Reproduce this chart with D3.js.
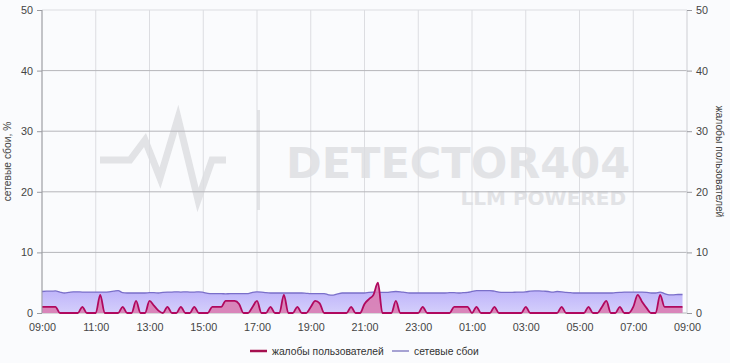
<!DOCTYPE html>
<html>
<head>
  <meta charset="utf-8">
  <title>сетевые сбои / жалобы</title>
  <script src="https://cdn.jsdelivr.net/npm/d3@7"></script>
  <style>
    body { margin: 0; background: #fafbfd; }
    svg { display: block; font-family: "Liberation Sans", Arial, sans-serif; }
  </style>
</head>
<body>
<div id="chart"></div>
<script>
// data: one point every 10 minutes from 09:00 (144 points)
var startTime = "09:00";
var stepMinutes = 10;
var tickLabels = ["09:00", "11:00", "13:00", "15:00", "17:00", "19:00", "21:00",
                  "23:00", "01:00", "03:00", "05:00", "07:00", "09:00"];
var yTicks = [0, 10, 20, 30, 40, 50];

var networkFails = [
  3.55, 3.6, 3.6, 3.65, 3.45, 3.3, 3.4, 3.5, 3.5, 3.45, 3.45, 3.45, 3.45, 3.45, 3.45, 3.5,
  3.6, 3.7, 3.35, 3.3, 3.3, 3.3, 3.3, 3.3, 3.35, 3.35, 3.3, 3.4, 3.45, 3.45, 3.5, 3.45,
  3.5, 3.45, 3.45, 3.5, 3.4, 3.25, 3.2, 3.2, 3.2, 3.15, 3.2, 3.2, 3.2, 3.2, 3.2, 3.4,
  3.5, 3.45, 3.35, 3.3, 3.3, 3.3, 3.3, 3.3, 3.3, 3.3, 3.3, 3.25, 3.2, 3.2, 3.2, 3.2,
  3.0, 2.95, 3.15, 3.3, 3.3, 3.3, 3.3, 3.3, 3.3, 3.4, 3.45, 3.4, 3.4, 3.4, 3.5, 3.55,
  3.5, 3.4, 3.3, 3.3, 3.3, 3.3, 3.3, 3.3, 3.3, 3.3, 3.3, 3.35, 3.35, 3.3, 3.35, 3.4,
  3.55, 3.7, 3.7, 3.7, 3.7, 3.6, 3.45, 3.4, 3.4, 3.4, 3.45, 3.45, 3.5, 3.6, 3.65, 3.65,
  3.6, 3.55, 3.45, 3.55, 3.5, 3.4, 3.35, 3.3, 3.3, 3.3, 3.3, 3.3, 3.3, 3.3, 3.3, 3.3,
  3.35, 3.4, 3.45, 3.45, 3.45, 3.45, 3.45, 3.4, 3.3, 3.3, 3.45, 3.2, 3.0, 3.0, 3.05, 3.05
];

var complaints = [
  1, 1, 1, 1, 0, 0, 0, 0, 0, 1, 0, 0, 0, 3, 0, 0,
  0, 0, 1, 0, 0, 2, 0, 0, 2, 1.2, 0.4, 0, 1, 0, 0, 1,
  0, 0, 1, 0, 0, 0, 1, 1, 1, 2, 2, 2, 1.5, 0, 0, 1,
  2, 0, 0, 1, 0, 0, 3, 0, 0, 1, 0, 0, 1, 2, 1.6, 0,
  0, 0, 0, 0, 0, 1, 0, 0, 1.5, 2.3, 3, 5, 0, 0, 0, 2,
  0, 0, 0, 0, 0, 1, 0, 0, 0, 0, 0, 0, 1, 1, 1, 1,
  0, 1, 0, 0, 0, 1, 0, 0, 0, 0, 0, 0, 1, 0, 0, 0,
  0, 0, 0, 0, 1, 0, 0, 0, 0, 0, 1, 0, 0, 1, 2, 0,
  0, 1, 0, 0, 1, 3, 1.8, 0.8, 0, 0, 3, 1, 1, 1, 1, 1
];

var w = 730, h = 363;
var margin = { top: 10, right: 43, bottom: 50, left: 42 };
var fontSize = 10.3;

var svg = d3.select("#chart").append("svg")
  .attr("width", w).attr("height", h);

var t0 = d3.timeParse("%Y-%m-%d %H:%M")("2024-01-01 " + startTime);
var t1 = d3.timeDay.offset(t0, 1);

var x = d3.scaleTime()
  .domain([t0, t1])
  .range([margin.left, w - margin.right]);
var yL = d3.scaleLinear().domain([0, 50]).range([h - margin.bottom, margin.top]);
var yR = d3.scaleLinear().domain([0, 50]).range([h - margin.bottom, margin.top]);

function timeAt(i) { return d3.timeMinute.offset(t0, i * stepMinutes); }

// watermark
var wm = svg.append("g").attr("fill", "#e2e3e6").attr("font-weight", "bold");
wm.append("text").attr("x", 286).attr("y", 178).attr("font-size", 43)
  .attr("font-family", "'DejaVu Sans', sans-serif").text("DETECTOR404");
wm.append("text").attr("x", 626).attr("y", 205).attr("font-size", 20)
  .attr("text-anchor", "end").attr("font-family", "'DejaVu Sans', sans-serif")
  .text("LLM POWERED");
wm.append("rect").attr("x", 257).attr("y", 110).attr("width", 3).attr("height", 100);
wm.append("path")
  .attr("d", "M100,160 L130,160 L145,140 L160,178 L178,118 L198,200 L212,160 L226,160")
  .attr("fill", "none").attr("stroke", "#e2e3e6").attr("stroke-width", 7);

var tickTimes = tickLabels.map(function (d, i) { return d3.timeHour.offset(t0, i * 2); });

// vertical grid
svg.append("g").selectAll("line")
  .data(tickTimes)
  .enter().append("line")
  .attr("x1", function (d) { return x(d); })
  .attr("x2", function (d) { return x(d); })
  .attr("y1", yL(50)).attr("y2", yL(0))
  .attr("stroke", "#dcdde1").attr("stroke-width", 1);

// horizontal grid
svg.append("g").selectAll("line")
  .data(yTicks)
  .enter().append("line")
  .attr("x1", margin.left).attr("x2", w - margin.right)
  .attr("y1", function (d) { return yL(d); })
  .attr("y2", function (d) { return yL(d); })
  .attr("stroke", function (d) { return d === 50 ? "#dcdde1" : "#b5b6ba"; })
  .attr("stroke-width", 1);

// network failures area
var grad = svg.append("defs").append("linearGradient")
  .attr("id", "netGrad").attr("x1", 0).attr("x2", 0).attr("y1", 0).attr("y2", 1);
grad.append("stop").attr("offset", "0%").attr("stop-color", "#bfb4fa");
grad.append("stop").attr("offset", "100%").attr("stop-color", "#d4cffb");

var netArea = d3.area()
  .x(function (d, i) { return x(timeAt(i)); })
  .y0(yL(0))
  .y1(function (d) { return yL(d); })
  .curve(d3.curveMonotoneX);
var netLine = d3.line()
  .x(function (d, i) { return x(timeAt(i)); })
  .y(function (d) { return yL(d); })
  .curve(d3.curveMonotoneX);

svg.append("path").datum(networkFails)
  .attr("d", netArea).attr("fill", "url(#netGrad)");
svg.append("path").datum(networkFails)
  .attr("d", netLine).attr("fill", "none")
  .attr("stroke", "#7a6fc9").attr("stroke-width", 1.3);

// complaints area
var cArea = d3.area()
  .x(function (d, i) { return x(timeAt(i)); })
  .y0(yR(0))
  .y1(function (d) { return yR(d); })
  .curve(d3.curveMonotoneX);
var cLine = d3.line()
  .x(function (d, i) { return x(timeAt(i)); })
  .y(function (d) { return yR(d); })
  .curve(d3.curveMonotoneX);

svg.append("path").datum(complaints)
  .attr("d", cArea).attr("fill", "#d97db3").attr("fill-opacity", 0.9);
svg.append("path").datum(complaints)
  .attr("d", cLine).attr("fill", "none")
  .attr("stroke", "#b0085e").attr("stroke-width", 1.8);

// axes
var xAxis = d3.axisBottom(x)
  .tickValues(tickTimes)
  .tickFormat(function (d, i) { return tickLabels[i]; })
  .tickSize(0).tickPadding(10);
var leftAxis = d3.axisLeft(yL).tickValues(yTicks).tickSize(5).tickPadding(4);
var rightAxis = d3.axisRight(yR).tickValues(yTicks).tickSize(5).tickPadding(4);

function styleAxis(g) {
  g.selectAll("text").attr("fill", "#444").attr("font-size", fontSize + 0.5)
    .attr("font-family", "'Liberation Sans', Arial, sans-serif");
  g.selectAll("line").attr("stroke", "#9a9ba0");
  g.select(".domain").attr("stroke", "#9a9ba0");
}

svg.append("g").attr("transform", "translate(0," + yL(0) + ")")
  .call(xAxis).call(styleAxis)
  .call(function (g) { g.select(".domain").remove(); });
svg.append("g").attr("transform", "translate(" + margin.left + ",0)")
  .call(leftAxis).call(styleAxis)
  .call(function (g) { g.select(".domain").attr("d", "M0," + yL(0) + "V" + yL(50)); });
svg.append("g").attr("transform", "translate(" + (w - margin.right) + ",0)")
  .call(rightAxis).call(styleAxis)
  .call(function (g) { g.select(".domain").attr("stroke", "#dcdde1").attr("d", "M0," + yL(0) + "V" + yL(50)); });

// axis titles
svg.append("text")
  .attr("transform", "translate(11," + ((yL(0) + yL(50)) / 2) + ") rotate(-90)")
  .attr("text-anchor", "middle").attr("font-size", fontSize).attr("fill", "#444")
  .text("сетевые сбои, %");
svg.append("text")
  .attr("transform", "translate(716," + ((yL(0) + yL(50)) / 2) + ") rotate(90)")
  .attr("text-anchor", "middle").attr("font-size", fontSize).attr("fill", "#444")
  .text("жалобы пользователей");

// legend
var legend = [
  { label: "жалобы пользователей", color: "#a5104f", width: 2.5, x: 250 },
  { label: "сетевые сбои", color: "#8a84c4", width: 1.5, x: 392 }
];
var lg = svg.append("g").selectAll("g").data(legend).enter().append("g")
  .attr("transform", function (d) { return "translate(" + d.x + ",351)"; });
lg.append("line").attr("x1", 0).attr("x2", 17).attr("y1", 0).attr("y2", 0)
  .attr("stroke", function (d) { return d.color; })
  .attr("stroke-width", function (d) { return d.width; });
lg.append("text").attr("x", 22).attr("y", 4).attr("font-size", fontSize).attr("fill", "#333")
  .text(function (d) { return d.label; });
</script>
</body>
</html>
